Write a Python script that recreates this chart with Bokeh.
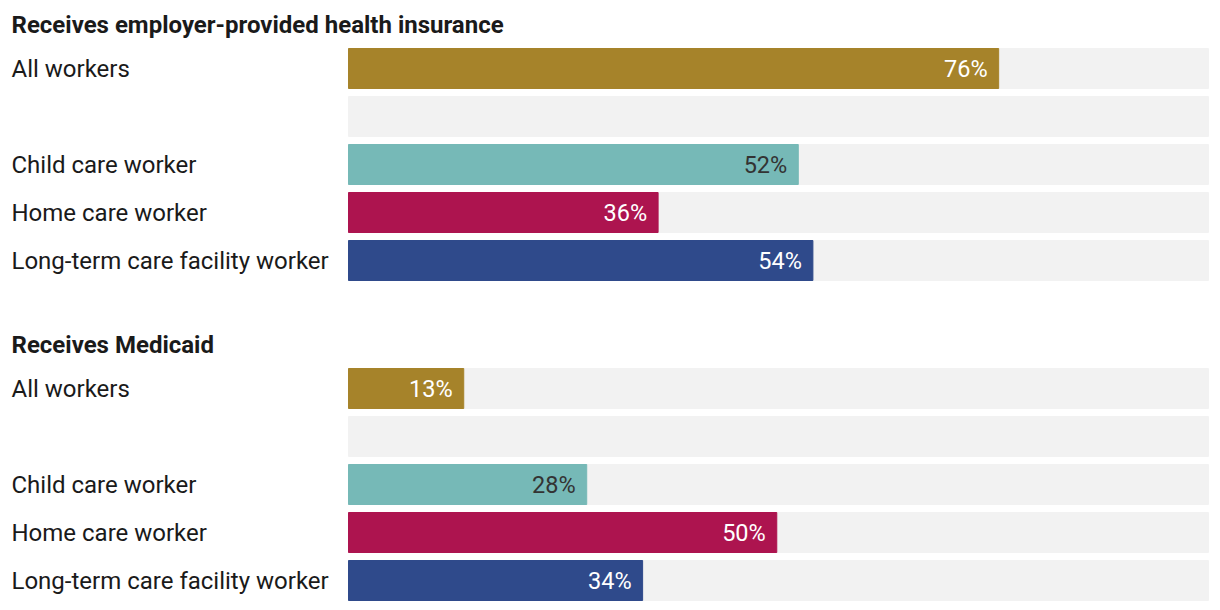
from bokeh.plotting import figure
from bokeh.models import Range1d, ColumnDataSource
from bokeh.core.properties import value
from bokeh.embed import file_html
from bokeh.resources import INLINE

# ---- data ----
sections = ["Receives employer-provided health insurance", "Receives Medicaid"]
categories = ["All workers", "", "Child care worker", "Home care worker", "Long-term care facility worker"]
employer_insurance = [75.6, None, 52.3, 36.0, 54.0]
medicaid = [13.4, None, 27.7, 49.8, 34.2]
series = [employer_insurance, medicaid]
bar_colors = ["#A6832A", None, "#76B9B7", "#AD144F", "#2F4A8B"]
label_colors = ["#FFFFFF", None, "#333333", "#FFFFFF", "#FFFFFF"]

# ---- layout (pixel-like units) ----
W, H = 1212, 604
px_per_pct = 8.6
bar_start = 348
x0 = -bar_start / px_per_pct
x1 = x0 + W / px_per_pct
row_pitch = 48
bar_h = 40
section_gap = 320
first_row = 68
title_off = 24

p = figure(width=W, height=H, output_backend="svg", toolbar_location=None,
           x_range=Range1d(x0, x1), y_range=Range1d(H, 0),
           min_border=0, min_border_left=0, min_border_right=0,
           min_border_top=0, min_border_bottom=0)
p.axis.visible = False
p.grid.visible = False
p.outline_line_color = None
p.background_fill_color = "white"
p.border_fill_color = "white"

label_x = 11 / px_per_pct + x0

bg = dict(y=[], right=[])
bars = dict(y=[], right=[], color=[])
vals = dict(x=[], y=[], text=[], color=[])
cats = dict(x=[], y=[], text=[])
titles = dict(x=[], y=[], text=[])

for s, (title, vals_s) in enumerate(zip(sections, series)):
    base = s * section_gap
    titles["x"].append(label_x)
    titles["y"].append(base + title_off)
    titles["text"].append(title)
    for i, (cat, v) in enumerate(zip(categories, vals_s)):
        yc = base + first_row + i * row_pitch
        bg["y"].append(yc)
        bg["right"].append(100)
        if cat:
            cats["x"].append(label_x)
            cats["y"].append(yc)
            cats["text"].append(cat)
        if v is not None:
            bars["y"].append(yc)
            bars["right"].append(v)
            bars["color"].append(bar_colors[i])
            vals["x"].append(v - 11 / px_per_pct)
            vals["y"].append(yc)
            vals["text"].append(f"{round(v)}%")
            vals["color"].append(label_colors[i])

p.hbar(y="y", left=0, right="right", height=bar_h, color="#F2F2F2",
       source=ColumnDataSource(bg))
p.hbar(y="y", left=0, right="right", height=bar_h, color="color",
       source=ColumnDataSource(bars))
p.text(x="x", y="y", text="text", text_color="color", text_align="right",
       text_baseline="middle", text_font=value("Roboto"), text_font_size="23.5px",
       source=ColumnDataSource(vals))
p.text(x="x", y="y", text="text", text_color="#1a1a1a", text_align="left",
       text_baseline="middle", text_font=value("Roboto"), text_font_size="24px",
       source=ColumnDataSource(cats))
p.text(x="x", y="y", text="text", text_color="#1a1a1a", text_align="left",
       text_baseline="middle", text_font=value("Roboto"), text_font_size="24px",
       text_font_style="bold", source=ColumnDataSource(titles))

open("out.html", "w").write(file_html(p, INLINE))
